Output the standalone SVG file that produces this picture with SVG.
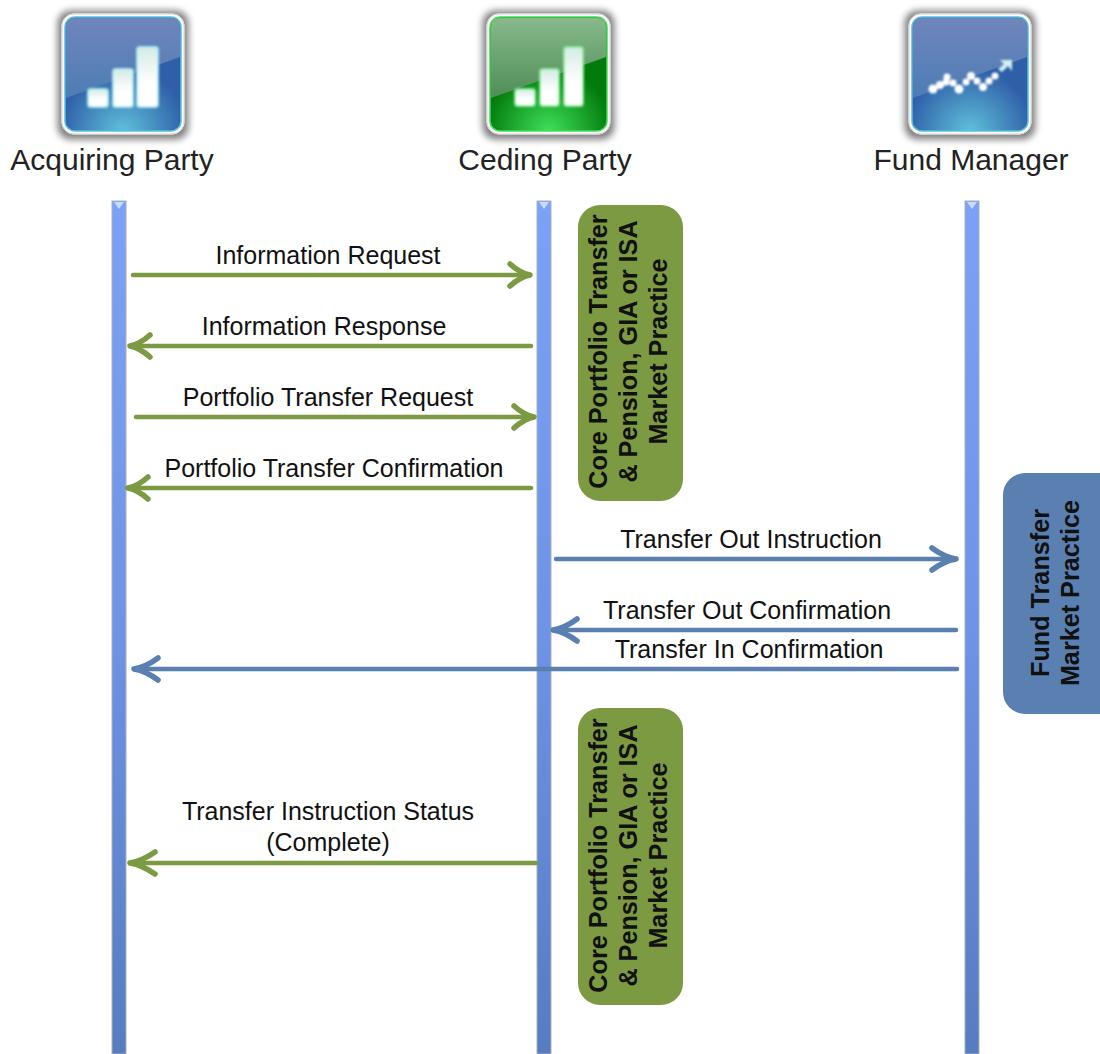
<svg xmlns="http://www.w3.org/2000/svg" width="1100" height="1054" viewBox="0 0 1100 1054">
<style>
text{font-family:"Liberation Sans",Arial,sans-serif;fill:#111}
.title{font-size:30px;text-anchor:middle;fill:#222}
.lbl{font-size:25px;text-anchor:middle}
.box{font-size:25.2px;font-weight:bold;text-anchor:middle}
.g{fill:none;stroke:#7c9a42;stroke-width:4.5;stroke-linecap:round;stroke-linejoin:round}
.b{fill:none;stroke:#5a80b2;stroke-width:4.5;stroke-linecap:round;stroke-linejoin:round}
.head{stroke-width:5.5}
.life{fill:url(#life);stroke:#aab0b8;stroke-width:1}
.frame{fill:#fff;stroke:#d8d8d8;stroke-width:1;filter:url(#sh)}
.bar{fill:url(#barfill);stroke-width:2}
</style>
<defs>
<filter id="sh" x="-25%" y="-25%" width="150%" height="150%"><feMorphology in="SourceAlpha" operator="dilate" radius="4"/><feGaussianBlur stdDeviation="3.500"/><feOffset dy="1"/><feComponentTransfer><feFuncA type="linear" slope="0.5"/></feComponentTransfer><feMerge><feMergeNode/><feMergeNode in="SourceGraphic"/></feMerge></filter>
<filter id="blur" x="-30%" y="-30%" width="160%" height="160%"><feGaussianBlur stdDeviation="1"/></filter>
<linearGradient id="life" x1="0" y1="0" x2="0" y2="1"><stop offset="0" stop-color="#7ba2f6"/><stop offset="0.5" stop-color="#6f93e6"/><stop offset="1" stop-color="#587cc0"/></linearGradient>
<linearGradient id="barfill" x1="0" y1="0" x2="0" y2="1"><stop offset="0" stop-color="#d4ebe4"/><stop offset="0.6" stop-color="#fff"/><stop offset="1" stop-color="#fff"/></linearGradient>
<radialGradient id="glowB" cx="0.5" cy="1" r="0.55"><stop offset="0" stop-color="#5fc0da"/><stop offset="1" stop-color="#2f5fa8"/></radialGradient>
<radialGradient id="glowG" cx="0.5" cy="1" r="0.55"><stop offset="0" stop-color="#3fe05a"/><stop offset="1" stop-color="#027a0c"/></radialGradient>
<linearGradient id="topB" x1="0" y1="0" x2="0" y2="1"><stop offset="0" stop-color="#6f86bc"/><stop offset="1" stop-color="#4d7cb4"/></linearGradient>
<linearGradient id="topG" x1="0" y1="0" x2="0" y2="1"><stop offset="0" stop-color="#88b98c"/><stop offset="1" stop-color="#4f8d56"/></linearGradient>
</defs>

<g id="lifelines">
<g id="life-acquiring"><rect class="life" x="112" y="201" width="14" height="853"/><path d="M114 202H124L119 209Z" fill="#c4dcfa"/></g>
<g id="life-ceding"><rect class="life" x="537" y="201" width="14" height="853"/><path d="M539 202H549L544 209Z" fill="#c4dcfa"/></g>
<g id="life-fund"><rect class="life" x="965" y="201" width="14" height="853"/><path d="M967 202H977L972 209Z" fill="#c4dcfa"/></g>
</g>

<g id="node-acquiring">
<rect class="frame" x="62" y="14" width="122" height="120" rx="12"/>
<rect x="65" y="17" width="116" height="114" rx="10" fill="url(#glowB)" stroke="#55c0e0" stroke-width="1.5"/>
<path d="M66 98V27Q66 18 75 18H171Q180 18 180 27V57Z" fill="url(#topB)"/>
<g filter="url(#blur)">
<rect class="bar" x="88" y="89" width="20" height="18" rx="3" stroke="#a8e6f0"/>
<rect class="bar" x="113" y="69" width="20" height="38" rx="3" stroke="#a8e6f0"/>
<rect class="bar" x="137" y="47" width="21" height="60" rx="3" stroke="#a8e6f0"/>
</g>
<text class="title" x="112" y="170">Acquiring Party</text>
</g>

<g id="node-ceding">
<rect class="frame" x="487" y="14" width="123" height="120" rx="12"/>
<rect x="490" y="17" width="117" height="114" rx="10" fill="url(#glowG)" stroke="#44dd55" stroke-width="1.5"/>
<path d="M491 98V27Q491 18 500 18H597Q606 18 606 27V57Z" fill="url(#topG)"/>
<g filter="url(#blur)">
<rect class="bar" x="515" y="89" width="20" height="17" rx="3" stroke="#8ae89a"/>
<rect class="bar" x="540" y="69" width="19" height="37" rx="3" stroke="#8ae89a"/>
<rect class="bar" x="564" y="47" width="19" height="59" rx="3" stroke="#8ae89a"/>
</g>
<text class="title" x="545" y="170">Ceding Party</text>
</g>

<g id="node-fund">
<rect class="frame" x="909" y="14" width="122" height="120" rx="12"/>
<rect x="912" y="17" width="116" height="114" rx="10" fill="url(#glowB)" stroke="#55c0e0" stroke-width="1.5"/>
<path d="M913 98V27Q913 18 922 18H1018Q1027 18 1027 27V57Z" fill="url(#topB)"/>
<g filter="url(#blur)" fill="#fff">
<circle cx="933" cy="89" r="4.500"/><circle cx="940" cy="85" r="4"/><circle cx="946" cy="82" r="3.500"/><circle cx="947" cy="77" r="3.500"/><circle cx="953" cy="83" r="3.500"/><circle cx="959" cy="89" r="4.500"/><circle cx="966" cy="82" r="3.500"/><circle cx="971" cy="76" r="4"/><circle cx="977" cy="81" r="3.500"/><circle cx="983" cy="87" r="4"/><circle cx="989" cy="81" r="3.500"/><circle cx="995" cy="76" r="3.500"/>
<path d="M1000 60H1012V71L1008 66 1002 72 998 69 1004 64Z" fill="#d4f0ec"/>
</g>
<text class="title" x="971" y="170">Fund Manager</text>
</g>

<g id="connectors">
<path class="g" d="M133 275H530"/><path class="g head" d="M510 264Q520 273 530 275 520 277 510 286"/>
<path class="g" d="M531 346H130"/><path class="g head" d="M150 335Q140 344 130 346 140 348 150 357"/>
<path class="g" d="M136 417H534"/><path class="g head" d="M514 406Q524 415 534 417 524 419 514 428"/>
<path class="g" d="M531 488H128"/><path class="g head" d="M148 477Q138 486 128 488 138 490 148 499"/>
<path class="b" d="M556 559H956"/><path class="b head" d="M932 548Q944 557 956 559 944 561 932 570"/>
<path class="b" d="M956 630H553"/><path class="b head" d="M577 619Q565 628 553 630 565 632 577 641"/>
<path class="b" d="M957 669H134"/><path class="b head" d="M158 658Q146 667 134 669 146 671 158 680"/>
<path class="g" d="M536 863H130"/><path class="g head" d="M155 852Q142 861 130 863 142 865 155 874"/>
</g>

<g id="connector-labels">
<text class="lbl" x="328" y="264">Information Request</text>
<text class="lbl" x="324" y="335">Information Response</text>
<text class="lbl" x="328" y="406">Portfolio Transfer Request</text>
<text class="lbl" x="334" y="477">Portfolio Transfer Confirmation</text>
<text class="lbl" x="751" y="548">Transfer Out Instruction</text>
<text class="lbl" x="747" y="619">Transfer Out Confirmation</text>
<text class="lbl" x="749" y="658">Transfer In Confirmation</text>
<text class="lbl" x="328" y="820">Transfer Instruction Status</text>
<text class="lbl" x="328" y="851">(Complete)</text>
</g>

<g id="practice-top">
<rect x="578" y="205" width="105" height="296" rx="22" fill="#7c9a42"/>
<text class="box" transform="translate(607 351.500) rotate(-90)">Core Portfolio Transfer</text>
<text class="box" transform="translate(637 351.500) rotate(-90)">&amp; Pension, GIA or ISA</text>
<text class="box" transform="translate(667 351.500) rotate(-90)">Market Practice</text>
</g>
<g id="practice-bottom">
<rect x="578" y="708" width="105" height="297" rx="22" fill="#7c9a42"/>
<text class="box" transform="translate(607 855.500) rotate(-90)">Core Portfolio Transfer</text>
<text class="box" transform="translate(637 855.500) rotate(-90)">&amp; Pension, GIA or ISA</text>
<text class="box" transform="translate(667 855.500) rotate(-90)">Market Practice</text>
</g>
<g id="practice-fund">
<rect x="1003" y="473" width="117" height="241" rx="22" fill="#5a80b2"/>
<text class="box" transform="translate(1049 593) rotate(-90)">Fund Transfer</text>
<text class="box" transform="translate(1079 593) rotate(-90)">Market Practice</text>
</g>
</svg>
